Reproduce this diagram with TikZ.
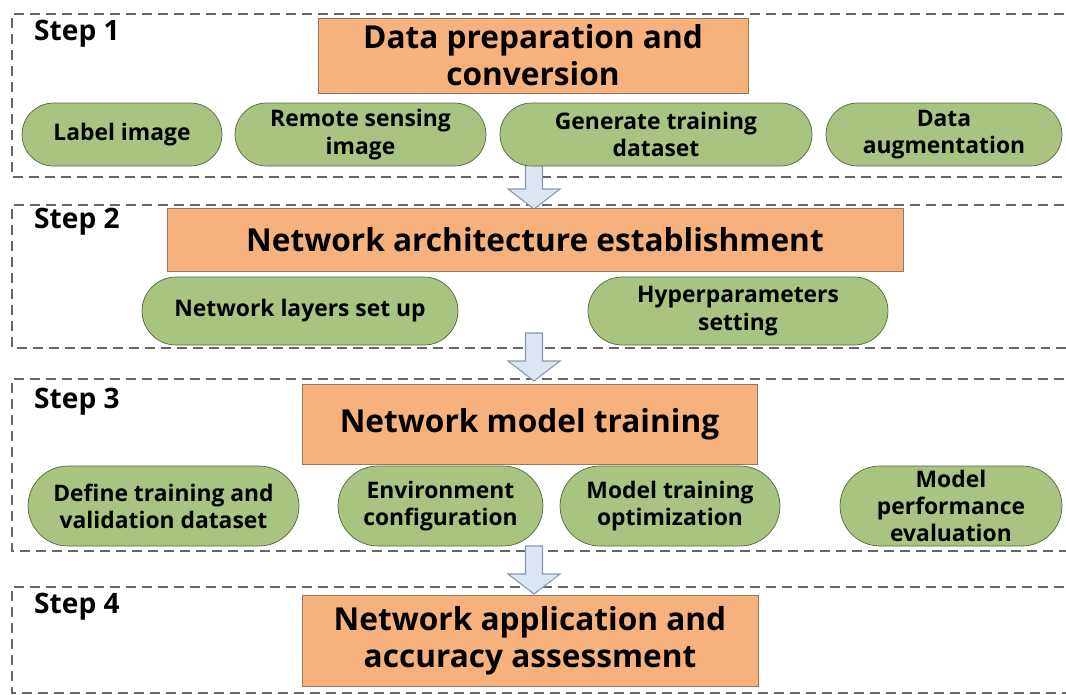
\documentclass[tikz,border=0pt]{standalone}
\usepackage{fontspec}
\setmainfont{Open Sans}
\usetikzlibrary{shapes.misc,calc}
\definecolor{taskorange}{RGB}{246,177,124}
\definecolor{taskedge}{RGB}{150,120,95}
\definecolor{subgreen}{RGB}{169,196,128}
\definecolor{subedge}{RGB}{85,100,65}
\definecolor{flowblue}{RGB}{220,229,242}
\definecolor{flowedge}{RGB}{135,150,175}
\tikzset{>=stealth,
  stepframe/.style={draw=black!60, line width=0.9pt, dash pattern=on 0.2cm off 0.12cm},
  steplabel/.style={anchor=west, font=\bfseries\fontsize{16}{18}\selectfont},
  taskbox/.style={draw=taskedge, fill=taskorange, align=center, inner sep=0pt,
    font=\bfseries\fontsize{18}{21}\selectfont},
  subtask/.style={rounded rectangle, draw=subedge, fill=subgreen, align=center, inner sep=0pt,
    font=\bfseries\fontsize{13}{15.5}\selectfont},
  flowarrow/.style={draw=flowedge, fill=flowblue, line width=0.6pt}}
\newcommand{\flowarrow}[2]{\draw[flowarrow] let \p1=#1, \p2=#2 in
  (\x1-0.17cm,\y1) -- (\x1+0.17cm,\y1) -- (\x1+0.17cm,\y2+0.4cm) -- (\x1+0.52cm,\y2+0.4cm)
  -- (\x1,\y2) -- (\x1-0.52cm,\y2+0.4cm) -- (\x1-0.17cm,\y2+0.4cm) -- cycle;}

\begin{document}
\begin{tikzpicture}[x=0.02cm,y=-0.02cm]
\useasboundingbox (0,0) rectangle (1066,694);
\draw[stepframe] (1080,14) -- (12,14) -- (12,177) -- (1080,177);
\draw[stepframe] (1080,205) -- (12,205) -- (12,348) -- (1080,348);
\draw[stepframe] (1080,379) -- (12,379) -- (12,551) -- (1080,551);
\draw[stepframe] (1080,587) -- (12,587) -- (12,693) -- (1080,693);
\coordinate (a1s) at (534,163); \coordinate (a1e) at (534,209);
\coordinate (a2s) at (534,333); \coordinate (a2e) at (534,381);
\coordinate (a3s) at (534,546); \coordinate (a3e) at (534,594);
\flowarrow{(a1s)}{(a1e)}
\flowarrow{(a2s)}{(a2e)}
\flowarrow{(a3s)}{(a3e)}
\node[steplabel] (s1) at (28,34) {Step 1};
\node[steplabel] (s2) at (28,222) {Step 2};
\node[steplabel] (s3) at (28,402) {Step 3};
\node[steplabel] (s4) at (28,607) {Step 4};
\node[taskbox, minimum width=8.6cm, minimum height=1.5cm] (prep) at (533,55.5) {Data preparation and\\conversion};
\node[taskbox, minimum width=14.72cm, minimum height=1.26cm] (arch) at (535,239.5) {Network architecture establishment};
\node[taskbox, minimum width=9.1cm, minimum height=1.6cm] (train) at (529.5,424) {Network model training};
\node[taskbox, minimum width=9.12cm, minimum height=1.82cm] (apply) at (530,640.5) {Network application and\\accuracy assessment};
\node[subtask, minimum width=4cm, minimum height=1.26cm] (label) at (122,134.5) {Label image};
\node[subtask, minimum width=5.02cm, minimum height=1.26cm] (rs) at (360.5,134.5) {Remote sensing\\image};
\node[subtask, minimum width=6.24cm, minimum height=1.26cm] (gen) at (656,134.5) {Generate training\\dataset};
\node[subtask, minimum width=4.72cm, minimum height=1.26cm] (aug) at (944,134.5) {Data\\augmentation};
\node[subtask, minimum width=6.32cm, minimum height=1.36cm] (layers) at (300,311) {Network layers set up};
\node[subtask, minimum width=6cm, minimum height=1.36cm] (hyper) at (738,311) {Hyperparameters\\setting};
\node[subtask, minimum width=5.42cm, minimum height=1.6cm] (split) at (163.5,506) {Define training and\\validation dataset};
\node[subtask, minimum width=4.1cm, minimum height=1.6cm] (env) at (440.5,506) {Environment\\configuration};
\node[subtask, minimum width=4.4cm, minimum height=1.6cm] (opt) at (670,506) {Model training\\optimization};
\node[subtask, minimum width=4.44cm, minimum height=1.6cm] (eval) at (951,506) {Model\\performance\\evaluation};
\end{tikzpicture}
\end{document}
